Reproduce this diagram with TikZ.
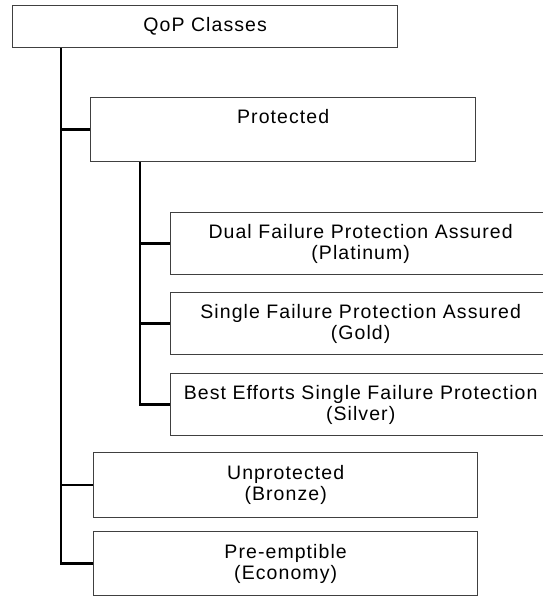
\documentclass[tikz,border=0pt]{standalone}
\usepackage{fontspec}
\setmainfont{Liberation Sans}[LetterSpace=5.5]
\begin{document}
\begin{tikzpicture}[x=1pt,y=-1pt,
  box/.style={draw=black!75, line width=1.3pt, rectangle, anchor=north west,
    inner sep=0pt, align=center, font=\fontsize{19.5}{21}\selectfont},
  conn/.style={draw=black, line width=2.4pt}]
  \useasboundingbox (0,0) rectangle (543,597);
  \clip (0,0) rectangle (543,597);

  % class boxes
  \node[box, minimum width=385, minimum height=42] (qop) at (12,5) {QoP Classes};
  \node[box, minimum width=385, minimum height=64] (prot) at (90,97) {Protected\\\strut};
  \node[box, minimum width=380, minimum height=62] (plat) at (170,212)
    {Dual Failure Protection Assured\\(Platinum)};
  \node[box, minimum width=380, minimum height=62] (gold) at (170,292)
    {Single Failure Protection Assured\\(Gold)};
  \node[box, minimum width=380, minimum height=62] (silv) at (170,373)
    {Best Efforts Single Failure Protection\\(Silver)};
  \node[box, minimum width=384, minimum height=65] (unprot) at (93,452)
    {Unprotected\\(Bronze)};
  \node[box, minimum width=384, minimum height=64] (pre) at (93,531)
    {Pre-emptible\\(Economy)};

  % tree connectors
  \coordinate (t1) at ([xshift=49pt]qop.south west);
  \coordinate (t2) at ([xshift=50pt]prot.south west);
  \draw[conn] (t1) |- (prot.west);
  \draw[conn] (t1) |- (unprot.west);
  \draw[conn] (t1) |- (pre.west);
  \draw[conn] (t2) |- (plat.west);
  \draw[conn] (t2) |- (gold.west);
  \draw[conn] (t2) |- (silv.west);
\end{tikzpicture}
\end{document}
